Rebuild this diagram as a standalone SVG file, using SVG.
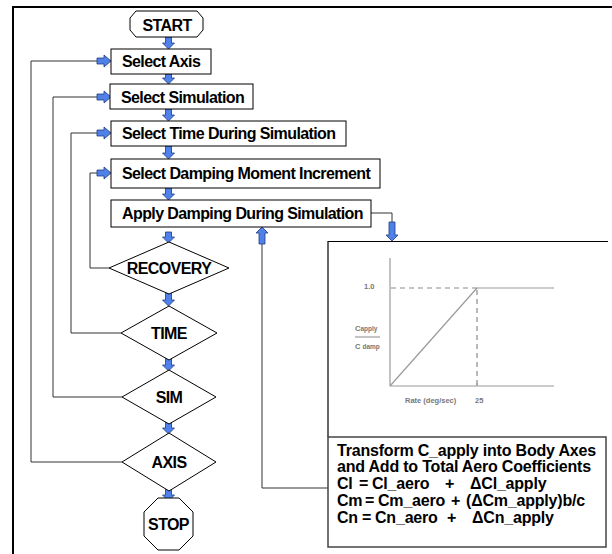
<svg xmlns="http://www.w3.org/2000/svg" width="612" height="554" viewBox="0 0 612 554">
<style>
.bx{fill:#fff;stroke:#000;stroke-width:1}
.t{font-family:"Liberation Sans",Arial,sans-serif;font-weight:bold;font-size:16px;letter-spacing:-0.6px;fill:#000}
.tc{text-anchor:middle}
.eq{font-family:"Liberation Sans",Arial,sans-serif;font-weight:bold;font-size:16px;letter-spacing:-0.2px;fill:#000}
.ln{fill:none;stroke:#333;stroke-width:1}
.ba{fill:#4f81e8;stroke:#1f3a80;stroke-width:0.8;stroke-linejoin:miter}
.g{fill:none;stroke:#9a9a9a;stroke-width:1.2}
.gd{fill:none;stroke:#8a8a8a;stroke-width:1.2;stroke-dasharray:5,4}
.gt{font-family:"Liberation Sans",Arial,sans-serif;font-weight:bold;font-size:7.5px;fill:#777}
</style>
<rect width="612" height="554" fill="#fff"/>
<g id="frame">
<path d="M13,554 V7 H612" fill="none" stroke="#000" stroke-width="2"/>
</g>
<g id="connectors">
<polyline class="ln" points="122,462 31,462 31,61 97,61"/>
<polyline class="ln" points="122,397 53,397 53,97 97,97"/>
<polyline class="ln" points="121,333 71,333 71,133 97,133"/>
<polyline class="ln" points="109,268 90,268 90,173 97,173"/>
<polyline class="ln" points="371,213 392,213 392,222"/>
<polyline class="ln" points="328,488 262,488 262,244"/>
<path class="ba" d="M165.5,37 H171.5 V43 H174.5 L168.5,49 L162.5,43 H165.5 Z"/>
<path class="ba" d="M165.5,74 H171.5 V78 H174.5 L168.5,84 L162.5,78 H165.5 Z"/>
<path class="ba" d="M165.5,109 H171.5 V115 H174.5 L168.5,121 L162.5,115 H165.5 Z"/>
<path class="ba" d="M165.5,146 H171.5 V153 H174.5 L168.5,159 L162.5,153 H165.5 Z"/>
<path class="ba" d="M165.5,188 H171.5 V194 H174.5 L168.5,200 L162.5,194 H165.5 Z"/>
<path class="ba" d="M165.5,232 H171.5 V237 H174.5 L168.5,243 L162.5,237 H165.5 Z"/>
<path class="ba" d="M165.5,292 H171.5 V300 H174.5 L168.5,306 L162.5,300 H165.5 Z"/>
<path class="ba" d="M165.5,357 H171.5 V365 H174.5 L168.5,371 L162.5,365 H165.5 Z"/>
<path class="ba" d="M165.5,421 H171.5 V428 H174.5 L168.5,434 L162.5,428 H165.5 Z"/>
<path class="ba" d="M165.5,487 H171.5 V495 H174.5 L168.5,501 L162.5,495 H165.5 Z"/>
<path class="ba" d="M97,58 H104 V55 L111,61 L104,67 V64 H97 Z"/>
<path class="ba" d="M97,94 H104 V91 L111,97 L104,103 V100 H97 Z"/>
<path class="ba" d="M97,130 H104 V127 L111,133 L104,139 V136 H97 Z"/>
<path class="ba" d="M97,170 H104 V167 L111,173 L104,179 V176 H97 Z"/>
<path class="ba" d="M389,222 H395 V235 H398 L392,241 L386,235 H389 Z"/>
<path class="ba" d="M259,244 H265 V233 H268 L262,227 L256,233 H259 Z"/>
</g>
<g id="start">
<polygon class="bx" points="136,11 197,11 203,18 203,30 197,37 136,37 130,30 130,18"/>
<text class="t tc" x="167" y="31">START</text>
</g>
<g id="selectAxis">
<rect class="bx" x="111" y="49" width="100" height="25"/>
<text class="t" x="122" y="67">Select Axis</text>
</g>
<g id="selectSimulation">
<rect class="bx" x="110" y="84" width="143" height="25"/>
<text class="t" x="121" y="102.5">Select Simulation</text>
</g>
<g id="selectTime">
<rect class="bx" x="111" y="121" width="235" height="25"/>
<text class="t" x="122" y="139">Select Time During Simulation</text>
</g>
<g id="selectDamping">
<rect class="bx" x="111" y="159" width="269" height="29"/>
<text class="t" x="122" y="179">Select Damping Moment Increment</text>
</g>
<g id="applyDamping">
<rect class="bx" x="111" y="200" width="260" height="27"/>
<text class="t" x="122" y="219">Apply Damping During Simulation</text>
</g>
<g id="recovery">
<polygon class="bx" points="169,242 229,268 169,294 109,268"/>
<text class="t tc" x="169" y="274">RECOVERY</text>
</g>
<g id="time">
<polygon class="bx" points="169,306 217,333 169,360 121,333"/>
<text class="t tc" x="169" y="339">TIME</text>
</g>
<g id="sim">
<polygon class="bx" points="169,370 216,397 169,424 122,397"/>
<text class="t tc" x="169" y="403">SIM</text>
</g>
<g id="axis">
<polygon class="bx" points="169,433 216,462 169,491 122,462"/>
<text class="t tc" x="169" y="468">AXIS</text>
</g>
<g id="stop">
<polygon class="bx" points="158,498 179,498 193,512 193,536 179,550 158,550 144,536 144,512"/>
<text class="t tc" x="168.5" y="530">STOP</text>
</g>
<g id="graphPanel">
<path d="M328,437 V241.5 H608" fill="none" stroke="#000" stroke-width="1.2"/>
<line class="g" x1="390" y1="258" x2="390" y2="386"/>
<line class="g" x1="390" y1="386" x2="554" y2="386"/>
<line class="g" x1="477" y1="288" x2="554" y2="288"/>
<line class="g" x1="390" y1="386" x2="477" y2="288"/>
<line class="gd" x1="391" y1="288" x2="477" y2="288"/>
<line class="gd" x1="477" y1="290" x2="477" y2="386"/>
<line class="g" x1="477" y1="386" x2="477" y2="383"/>
<text class="gt" x="364" y="289">1.0</text>
<text class="gt" x="355" y="331">C<tspan font-size="6.5px">apply</tspan></text>
<line x1="355" y1="337" x2="380" y2="337" stroke="#888" stroke-width="1"/>
<text class="gt" x="355" y="349">C <tspan font-size="6.5px">damp</tspan></text>
<text class="gt" x="405" y="403">Rate (deg/sec)</text>
<text class="gt" x="475" y="403">25</text>
</g>
<g id="transform">
<rect x="328" y="437" width="278" height="110" fill="#fff" stroke="#444" stroke-width="1.5"/>
<text class="eq" x="337" y="455.5">Transform C_apply into Body Axes</text>
<text class="eq" x="337" y="472.3">and Add to Total Aero Coefficients</text>
<text class="eq" y="489"><tspan x="337">Cl</tspan><tspan x="359">=</tspan><tspan x="372">Cl_aero</tspan><tspan x="445">+</tspan><tspan x="470">ΔCl_apply</tspan></text>
<text class="eq" y="506"><tspan x="337">Cm</tspan><tspan x="365">=</tspan><tspan x="378">Cm_aero</tspan><tspan x="451">+</tspan><tspan x="466">(ΔCm_apply)b/c</tspan></text>
<text class="eq" y="523"><tspan x="337">Cn</tspan><tspan x="362">=</tspan><tspan x="375">Cn_aero</tspan><tspan x="447">+</tspan><tspan x="472">ΔCn_apply</tspan></text>
</g>
</svg>
